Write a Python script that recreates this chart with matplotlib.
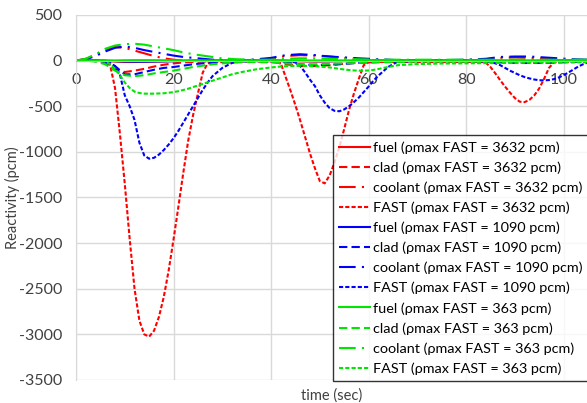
import matplotlib
matplotlib.use("Agg")
import matplotlib.pyplot as plt
from matplotlib.ticker import FuncFormatter

plt.rcParams['font.family'] = ['Lato', 'DejaVu Sans']

# FAST total reactivity (pcm)
t_fast = [0, 3, 5, 6, 7, 8, 9, 10, 11, 12, 13, 14, 15, 16, 17, 18, 19, 20, 21, 22,
          23, 24, 25, 26, 27, 28, 30, 32, 34, 37, 40, 42, 43, 44, 45, 46, 47, 48, 49, 50,
          51, 52, 53, 54, 55, 56, 57, 58, 59, 60, 61, 62, 64, 66, 70, 75, 80, 83, 84, 85,
          86, 87, 88, 89, 90, 91, 92, 93, 94, 95, 96, 97, 98, 99, 100, 101, 102, 103, 104, 105]
fast_3632 = [0, 0, -5, -15, -50, -300, -800, -1350, -1950, -2500, -2850, -3000, -3025, -2960, -2810, -2590, -2300, -1960, -1600, -1230,
             -880, -600, -360, -130, -30, -20, -15, -10, -10, -10, -10, -30, -180, -330, -490, -660, -840, -1020, -1180, -1320,
             -1345, -1260, -1120, -950, -750, -540, -360, -200, -50, -20, -15, -15, -15, -15, -15, -15, -15, -15, -20, -70,
             -140, -215, -285, -350, -410, -450, -455, -430, -380, -305, -200, -80, -20, -15, -15, -15, -15, -15, -15, -15]
fast_1090 = [0, 0, -3, -10, -25, -60, -150, -380, -500, -650, -900, -1040, -1075, -1065, -1030, -980, -920, -850, -770, -680,
             -590, -500, -410, -320, -240, -170, -80, -25, -10, -5, -5, -5, -8, -12, -20, -60, -130, -210, -280, -380,
             -460, -520, -550, -555, -535, -500, -455, -405, -345, -285, -220, -165, -70, -10, -5, -5, -5, -8, -10, -15,
             -30, -50, -80, -110, -135, -160, -180, -195, -207, -215, -217, -213, -203, -185, -160, -130, -98, -65, -40, -20]
fast_363 = [0, 0, -3, -10, -40, -90, -160, -240, -300, -340, -355, -362, -362, -362, -360, -358, -352, -345, -335, -322,
            -308, -290, -272, -255, -238, -220, -185, -150, -125, -95, -75, -65, -62, -60, -58, -58, -58, -60, -62, -65,
            -70, -75, -82, -90, -97, -103, -108, -110, -110, -108, -102, -92, -70, -50, -38, -32, -30, -28, -28, -27,
            -27, -26, -26, -25, -25, -24, -24, -23, -23, -22, -22, -21, -21, -20, -20, -20, -19, -18, -18, -17]

# fuel / clad / coolant components (pcm)
t_comp = [0, 2, 4, 6, 8, 10, 12, 14, 16, 18, 20, 22, 24, 26, 28, 30, 33, 36, 40, 43,
          46, 49, 52, 55, 58, 62, 66, 70, 75, 80, 84, 87, 90, 93, 96, 99, 102, 105]
fuel_3632 = [0, 0, 0, -3, -10, -15, -15, -12, -10, -8, -5, -3, 0, 0, 0, 0, 0, 0, 0, -3,
             -8, -10, -8, -5, -3, 0, 0, 0, 0, 0, 0, -3, -5, -5, -3, 0, 0, 0]
clad_3632 = [0, 0, -5, -20, -90, -125, -110, -90, -65, -45, -30, -20, -15, -10, -5, -5, -5, 0, -10, -40,
             -60, -60, -50, -35, -20, -10, -5, 0, 0, 0, -10, -20, -25, -25, -20, -15, -10, -5]
cool_3632 = [0, 20, 60, 110, 150, 140, 110, 80, 50, 25, 10, 0, -5, -5, -5, 0, 0, 0, 20, 50,
             60, 55, 45, 30, 15, 5, 0, 0, 0, 0, 15, 30, 35, 30, 20, 10, 5, 0]
fuel_1090 = [0, 0, 0, 0, -5, -10, -12, -12, -10, -8, -6, -4, -2, 0, 0, 0, 0, 0, 0, -2,
             -4, -6, -6, -4, -2, 0, 0, 0, 0, 0, 0, -2, -3, -3, -2, 0, 0, 0]
clad_1090 = [0, 0, -5, -15, -60, -150, -150, -125, -100, -80, -70, -55, -40, -30, -20, -10, -5, 0, -5, -20,
             -40, -50, -45, -35, -25, -15, -5, 0, 0, 0, -5, -15, -20, -25, -25, -20, -15, -10]
cool_1090 = [0, 15, 50, 100, 140, 155, 140, 115, 95, 75, 55, 40, 30, 20, 10, 5, 5, 10, 30, 60,
             70, 60, 45, 35, 25, 15, 5, 5, 5, 10, 20, 40, 45, 45, 35, 25, 15, 10]
fuel_363 = [0, 0, 0, 0, 2, 4, 5, 5, 5, 4, 3, 2, 2, 2, 2, 2, 2, 2, 2, 2,
            2, 2, 2, 2, 2, 2, 2, 2, 2, 2, 2, 2, 2, 2, 2, 2, 2, 2]
clad_363 = [0, 0, -10, -40, -110, -160, -170, -160, -140, -125, -110, -90, -70, -55, -40, -30, -20, -15, -20, -30,
            -40, -40, -35, -30, -25, -20, -15, -10, -10, -10, -10, -10, -10, -10, -10, -10, -10, -10]
cool_363 = [0, 20, 70, 130, 165, 180, 185, 175, 155, 135, 115, 90, 70, 55, 40, 25, 15, 10, 10, 20,
            25, 25, 20, 20, 15, 10, 10, 10, 10, 10, 10, 10, 10, 10, 10, 10, 10, 10]

cases = ['3632', '1090', '363']
colors = {'3632': '#ff0000', '1090': '#0000ff', '363': '#00e600'}
comps = {'3632': (fuel_3632, clad_3632, cool_3632, fast_3632),
         '1090': (fuel_1090, clad_1090, cool_1090, fast_1090),
         '363': (fuel_363, clad_363, cool_363, fast_363)}
names = ['fuel', 'clad', 'coolant', 'FAST']
styles = ['-', (0, (4, 2)), (0, (8, 3, 1, 3)), (0, (2, 1))]

fig = plt.figure(figsize=(5.87, 4.03), dpi=100)
ax = fig.add_axes([0.1295, 0.0571, 0.8705, 0.9057])

for c in cases:
    fuel, clad, cool, fast = comps[c]
    for name, ls, y in zip(names, styles, (fuel, clad, cool, fast)):
        x = t_fast if name == 'FAST' else t_comp
        ax.plot(x, y, color=colors[c], ls=ls, lw=1.5,
                label='%s (\u03c1max FAST = %s pcm)' % (name, c))

ax.set_xlim(0, 104.8)
ax.set_ylim(-3500, 500)
ax.set_xticks([0, 20, 40, 60, 80, 100])
ax.set_yticks(range(-3500, 501, 500))
ax.yaxis.set_major_formatter(FuncFormatter(lambda v, p: '%d' % v))
ax.grid(True, color='#d9d9d9', lw=1)
ax.set_axisbelow(True)
for s in ['top', 'right']:
    ax.spines[s].set_visible(False)
ax.spines['left'].set_color('#d9d9d9')
ax.spines['bottom'].set_position(('data', 0))
ax.spines['bottom'].set_color('#bfbfbf')
ax.tick_params(length=0, labelsize=11.5, colors='#404040')
ax.tick_params(axis='x', pad=9)
ax.tick_params(axis='y', pad=10)

ax.set_xlabel('time (sec)', fontsize=10.5, color='#404040')
ax.xaxis.set_label_coords(0.5, -0.022)
ax.set_ylabel('Reactivity (pcm)', fontsize=10.5, color='#404040')
ax.yaxis.set_label_coords(-0.11, 0.5)

leg = ax.legend(loc='upper left', bbox_to_anchor=(0.567, 0.665), bbox_transform=fig.transFigure,
                fontsize=10.4, frameon=True, fancybox=False, labelspacing=0.52, handlelength=2.1,
                handletextpad=0.25, borderpad=0.45, borderaxespad=0)
leg.get_frame().set_edgecolor('black')
leg.get_frame().set_linewidth(1.0)

fig.savefig('out.png', dpi=100)
